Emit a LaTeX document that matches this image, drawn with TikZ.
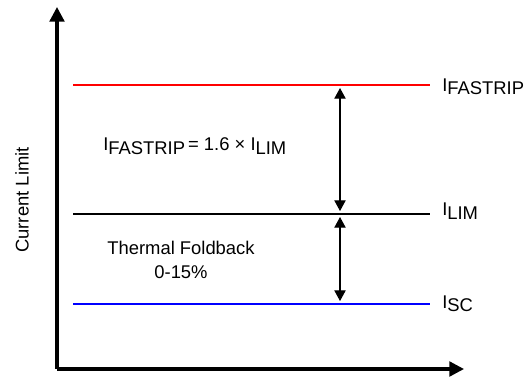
\documentclass[tikz,border=0pt]{standalone}
\usepackage{fontspec}
\setmainfont{Liberation Sans}
\usetikzlibrary{arrows.meta}
\newcommand{\sbs}[1]{\raisebox{-0.35ex}{#1}}
\begin{document}
\begin{tikzpicture}[x=0.75pt,y=-0.75pt,
  axis/.style={line width=2.4pt,-{Triangle[width=11pt,length=11pt]}},
  level/.style={line width=1.6pt},
  span/.style={line width=0.8pt,{Triangle[width=8.5pt,length=8pt]}-{Triangle[width=8.5pt,length=8pt]}},
  lbl/.style={font=\fontsize{13.8}{16}\selectfont, inner sep=0pt}]
\useasboundingbox (0,0) rectangle (530,379);
\coordinate (o) at (57,369);
\coordinate (ytop) at (57,7);
\coordinate (xend) at (464,369);
\draw[axis] (o) -- (ytop);
\draw[axis] (o) -- (xend);
% levels
\coordinate (r1) at (73,85); \coordinate (r2) at (430,85);
\coordinate (k1) at (73,214); \coordinate (k2) at (430,214);
\coordinate (b1) at (73,304); \coordinate (b2) at (430,304);
\draw[level, red] (r1) -- (r2);
\draw[level, black] (k1) -- (k2);
\draw[level, blue] (b1) -- (b2);
% spans
\coordinate (a1) at (340,88); \coordinate (a2) at (340,211);
\coordinate (a3) at (340,217); \coordinate (a4) at (340,301);
\draw[span] (a1) -- (a2);
\draw[span] (a3) -- (a4);
% labels
\node[lbl, anchor=west] (lf) at (442,87) {I\sbs{FASTRIP}};
\node[lbl, anchor=west] (ll) at (442,211) {I\sbs{LIM}};
\node[lbl, anchor=west] (ls) at (442,304) {I\sbs{SC}};
\node[lbl, anchor=west] (eq) at (103,146) {I\sbs{FASTRIP}\,= 1.6 × I\sbs{LIM}};
\node[lbl, align=center] (tf) at (181,260) {Thermal Foldback\\[2pt]0-15\%};
\node[lbl, rotate=90] (cl) at (22,200) {Current Limit};
\end{tikzpicture}
\end{document}
